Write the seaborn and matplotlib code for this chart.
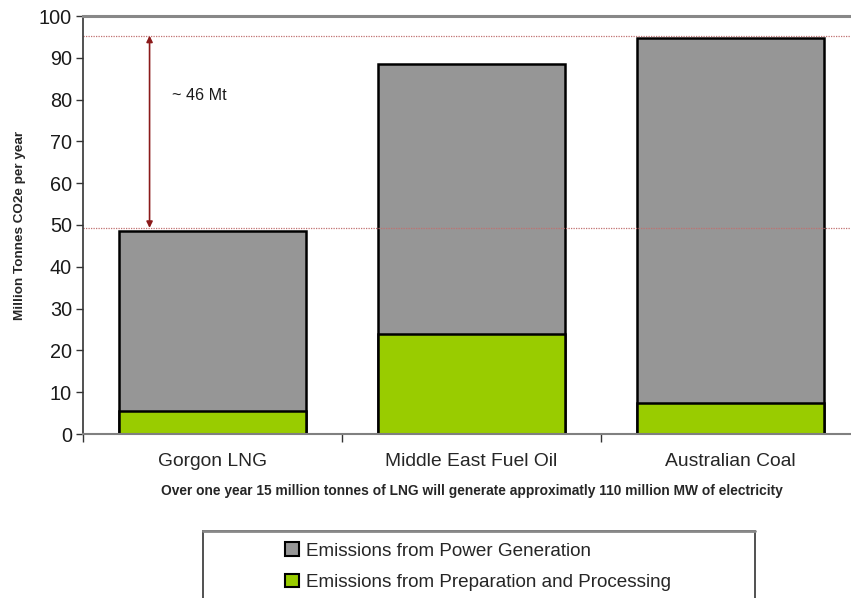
import matplotlib
matplotlib.use("Agg")
import matplotlib.pyplot as plt
from matplotlib.patches import Patch, Rectangle
import pandas as pd
import seaborn as sns

sns.set_style("white")
plt.rcParams["font.family"] = ["Liberation Sans", "DejaVu Sans"]

# data (Mt CO2e per year)
categories = ["Gorgon LNG", "Middle East Fuel Oil", "Australian Coal"]
power_generation = [43.0, 64.5, 87.3]
preparation = [5.5, 24.0, 7.5]
gap_low = 49.3
gap_high = 95.3
gap_label = "~ 46 Mt"
y_ticks = [0, 10, 20, 30, 40, 50, 60, 70, 80, 90, 100]
subtitle = "Over one year 15 million tonnes of LNG will generate approximatly 110 million MW of electricity"

gray = "#969696"
green = "#99CC00"

df = pd.DataFrame({
    "source": categories,
    "power": power_generation,
    "prep": preparation,
})
df["total"] = df["power"] + df["prep"]

W, H = 851, 598
fig = plt.figure(figsize=(W / 100, H / 100), dpi=100)
ax = fig.add_axes([83 / W, (H - 434) / H, (860 - 83) / W, (434 - 16) / H])

sns.barplot(data=df, x="source", y="total", color=gray, width=0.72,
            edgecolor="black", linewidth=1.8, saturation=1, ax=ax)
sns.barplot(data=df, x="source", y="prep", color=green, width=0.72,
            edgecolor="black", linewidth=1.8, saturation=1, ax=ax)

ax.set_xlim(-0.5, 2.5)
ax.set_ylim(0, 100)
ax.set_yticks(y_ticks)
ax.set_xlabel("")
ax.set_ylabel("Million Tonnes CO2e per year", fontsize=9.7, fontweight="bold",
              labelpad=9)

ax.tick_params(axis="y", which="major", direction="out", length=5, width=1,
               labelsize=14.3, color="#333333", labelcolor="#1a1a1a", pad=3, left=True)
ax.tick_params(axis="x", which="major", length=0, labelsize=13.9, pad=14)
ax.set_xticks([-0.5, 0.5, 1.5], minor=True)
ax.tick_params(axis="x", which="minor", direction="out", length=6, width=1,
               color="#333333", bottom=True)

ax.spines["left"].set_color("#333333")
ax.spines["left"].set_linewidth(1.2)
ax.spines["bottom"].set_color("#808080")
ax.spines["bottom"].set_linewidth(1.5)
ax.spines["top"].set_color("#888888")
ax.spines["top"].set_linewidth(2.2)
ax.spines["right"].set_visible(False)

# dotted reference lines and the gap arrow
for yv in [gap_low, gap_high]:
    ax.axhline(yv, color="#C07070", linewidth=0.9, linestyle=(0, (1, 1)), zorder=1)
ax.annotate("", xy=(-0.243, gap_low), xytext=(-0.243, gap_high),
            arrowprops=dict(arrowstyle="<|-|>", color="#8B1A1A", lw=1.2,
                            mutation_scale=9, shrinkA=0, shrinkB=0))
ax.text(-0.158, 81, gap_label, fontsize=11.6, va="center", ha="left", color="#1a1a1a")

fig.text(472 / W, 1 - 491 / H, subtitle, fontsize=9.9, fontweight="bold",
         ha="center", va="center")

# legend box (runs past the bottom edge like the reference)
fig.patches.append(Rectangle((203 / W, 1 - 640 / H), (755 - 203) / W, (640 - 531) / H,
                             transform=fig.transFigure, facecolor="white",
                             edgecolor="#333333", linewidth=1.2))
fig.add_artist(plt.Line2D([203 / W, 755 / W], [1 - 531 / H, 1 - 531 / H],
                          transform=fig.transFigure, color="#888888", linewidth=2))
handles = [Patch(facecolor=gray, edgecolor="black", linewidth=1.5),
           Patch(facecolor=green, edgecolor="black", linewidth=1.5)]
fig.legend(handles, ["Emissions from Power Generation",
                     "Emissions from Preparation and Processing"],
           loc="upper left", bbox_to_anchor=(276 / W, 1 - 533 / H),
           frameon=False, fontsize=13.6, handlelength=0.7, handleheight=0.7,
           handletextpad=0.4, labelspacing=0.75, borderpad=0)

fig.savefig("out.png", dpi=100)
